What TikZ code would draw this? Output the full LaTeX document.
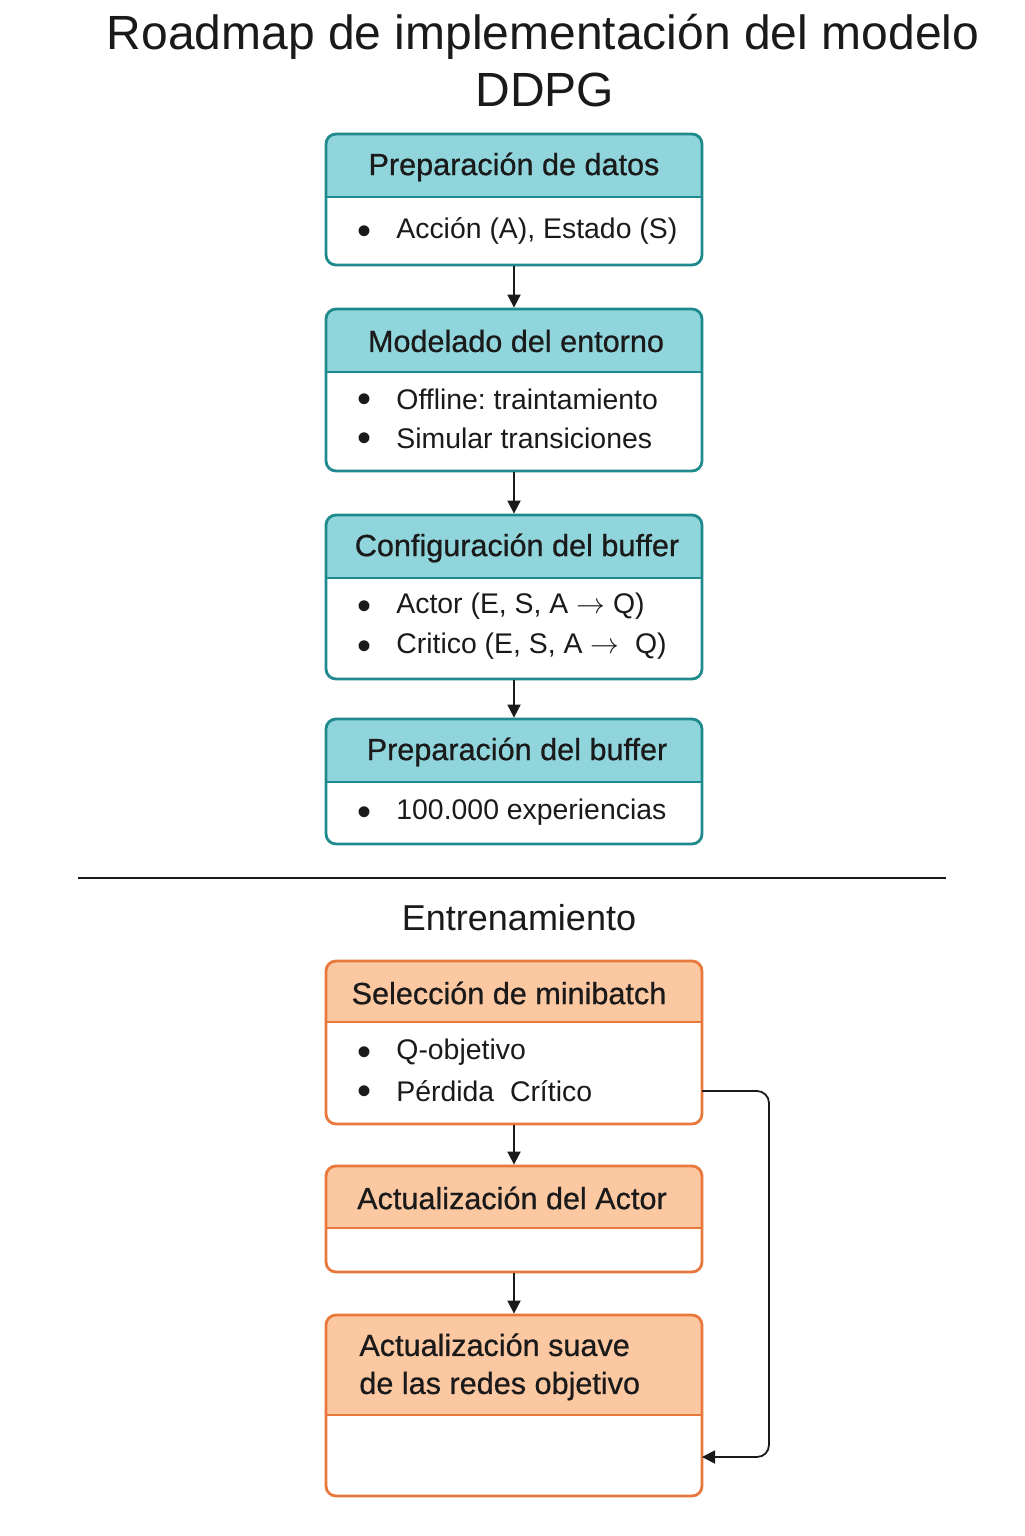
\documentclass[tikz,border=0pt]{standalone}
\usepackage{fontspec}
\setmainfont{Liberation Sans}
\newfontfamily\hdfont{Liberation Sans}[FakeBold=0.7]
\usetikzlibrary{backgrounds,arrows.meta,calc}
\definecolor{lineT}{HTML}{1E8A8E}
\definecolor{hdrT}{HTML}{90D5DB}
\definecolor{lineO}{HTML}{E8783C}
\definecolor{hdrO}{HTML}{FCC8A2}
\definecolor{ink}{HTML}{1A1A1A}
\frenchspacing
\tikzset{
  boxT/.style={draw=lineT, line width=1.4pt, rounded corners=5pt, minimum width=188pt, inner sep=0pt},
  boxO/.style={draw=lineO, line width=1.4pt, rounded corners=5pt, minimum width=188pt, inner sep=0pt},
  hdtext/.style={font=\hdfont\fontsize{15.3}{18}\selectfont, text=ink, inner sep=0pt},
  bltext/.style={font=\fontsize{14.2}{17}\selectfont, text=ink, inner sep=0pt, anchor=west},
  bdot/.style={font=\fontsize{20}{20}\selectfont, text=ink, inner sep=0pt},
  arr/.style={draw=ink, line width=0.9pt, -{Triangle[length=6.5pt,width=6.5pt]}},
}
\newcommand\mkbox[5]{%
  \node[box#5, minimum height={(#3-#2)*0.5pt}] (#1) at (514,{(#2+#3)/2}) {};
  \begin{pgfonlayer}{background}
    \fill[hdr#5, rounded corners=5pt] (326,#2) rectangle (702,#4);
    \fill[hdr#5] (326,{(#2+#4)/2}) rectangle (702,#4);
  \end{pgfonlayer}
  \draw[line#5, line width=1.4pt] (326,#4) -- (702,#4);
}
\newcommand\blt[3]{%
  \node[bdot] (#1d) at (364,{#2+4}) {•};
  \node[bltext] (#1) at (396,#2) {#3};
}
\begin{document}
\begin{tikzpicture}[x=0.5pt,y=-0.5pt]
\useasboundingbox (0,0) rectangle (1024,1536);
\begin{pgfonlayer}{background}
\fill[white] (0,0) rectangle (1024,1536);
\end{pgfonlayer}

\node[font=\fontsize{24}{28}\selectfont, text=ink] (t1) at (543,37) {Roadmap de implementación del modelo};
\node[font=\fontsize{24}{28}\selectfont, text=ink] (t2) at (545,90) {DDPG};

\mkbox{b1}{134}{265}{197}{T}
\node[hdtext] (h1) at (514,167) {Preparación de datos};
\blt{l11}{231}{Acción (A), Estado (S)}

\mkbox{b2}{309}{471}{372}{T}
\node[hdtext] (h2) at (516,341) {Modelado del entorno};
\blt{l21}{399}{Offline: traintamiento}
\blt{l22}{438}{Simular transiciones}

\mkbox{b3}{515}{679}{578}{T}
\node[hdtext] (h3) at (517,548) {Configuración del buffer};
\blt{l31}{606}{Actor (E, S, A $\rightarrow$ Q)}
\blt{l32}{646}{Critico (E, S, A $\rightarrow$\ \ Q)}

\mkbox{b4}{719}{844}{782}{T}
\node[hdtext] (h4) at (517,752) {Preparación del buffer};
\blt{l41}{812}{100.000 experiencias}

\draw[ink, line width=0.9pt] (78,878) -- (946,878);
\node[font=\fontsize{18}{21}\selectfont, text=ink] (tr) at (519,918) {Entrenamiento};

\mkbox{b5}{961}{1124}{1022}{O}
\node[hdtext] (h5) at (509,993) {Selección de minibatch};
\blt{l51}{1052}{Q-objetivo}
\blt{l52}{1091}{Pérdida\ \ Crítico}

\mkbox{b6}{1166}{1272}{1228}{O}
\node[hdtext] (h6) at (512,1198) {Actualización del Actor};

\mkbox{b7}{1315}{1496}{1415}{O}
\node[hdtext, align=left, anchor=north west, font=\hdfont\fontsize{15.3}{19}\selectfont] (h7) at (359,1333) {Actualización suave\\de las redes objetivo};

\draw[arr] (b1.south) -- (b2.north);
\draw[arr] (b2.south) -- (b3.north);
\draw[arr] (b3.south) -- (b4.north);
\draw[arr] (b5.south) -- (b6.north);
\draw[arr] (b6.south) -- (b7.north);

\coordinate (fb1) at (702,1091);
\coordinate (fb2) at (702,1457);
\draw[arr, rounded corners=6pt] (fb1) -- (769,1091) -- (769,1457) -- (fb2);
\end{tikzpicture}
\end{document}
